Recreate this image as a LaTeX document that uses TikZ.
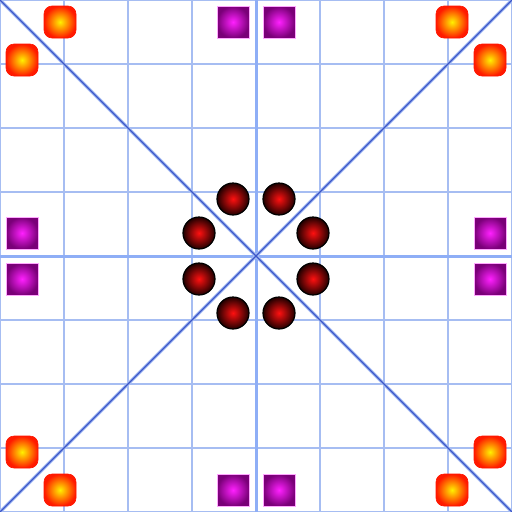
\documentclass[tikz,border=0pt]{standalone}
\usetikzlibrary{shadings}
\definecolor{gridblue}{HTML}{A6BDF2}
\definecolor{axisblue}{HTML}{8EAEF6}
\definecolor{diagblue}{HTML}{3A55C8}
\definecolor{halo}{HTML}{A8BEF4}
\definecolor{magc}{HTML}{FF20FF}
\definecolor{mago}{HTML}{7A0078}
\definecolor{orc}{HTML}{FFF000}
\definecolor{oro}{HTML}{FF1A00}
\definecolor{ballc}{HTML}{FF1010}
\definecolor{ballo}{HTML}{200000}
\tikzset{
  gridline/.style={draw=gridblue, line width=1.5},
  axisline/.style={draw=axisblue, line width=3},
  diaghalo/.style={draw=halo, line width=3.2},
  diagline/.style={draw=diagblue, line width=1.3},
  orbox/.style={minimum size=32, inner sep=0, rounded corners=8, draw=oro!80!red, line width=0.6,
     inner color=orc, outer color=oro},
  magbox/.style={minimum size=32, inner sep=0, draw=magc!40!white, line width=0.7,
     inner color=magc, outer color=mago},
  ball/.style={circle, minimum size=32, inner sep=0, draw=black, line width=1.2,
     inner color=ballc, outer color=ballo},
}
\begin{document}
\begin{tikzpicture}[x=1pt,y=-1pt]
\useasboundingbox (0,0) rectangle (512,512);
\fill[white] (0,0) rectangle (512,512);
\foreach \i in {0,64,128,192,320,384,448,512}{
  \draw[gridline] (\i,0) -- (\i,512);
  \draw[gridline] (0,\i) -- (512,\i);
}
\draw[axisline] (256,0) -- (256,512);
\draw[axisline] (0,256) -- (512,256);
\coordinate (tl) at (0,0);
\coordinate (tr) at (512,0);
\coordinate (bl) at (0,512);
\coordinate (br) at (512,512);
\draw[diaghalo] (tl) -- (br);
\draw[diaghalo] (tr) -- (bl);
\draw[diagline] (tl) -- (br);
\draw[diagline] (tr) -- (bl);
% orange rounded squares
\node[orbox] (o1) at (60,22) {};
\node[orbox] (o2) at (22,60) {};
\node[orbox] (o3) at (452,22) {};
\node[orbox] (o4) at (490,60) {};
\node[orbox] (o5) at (22,452) {};
\node[orbox] (o6) at (60,490) {};
\node[orbox] (o7) at (490,452) {};
\node[orbox] (o8) at (452,490) {};
% magenta squares
\node[magbox] (m1) at (233,22) {};
\node[magbox] (m2) at (279,22) {};
\node[magbox] (m3) at (233,490) {};
\node[magbox] (m4) at (279,490) {};
\node[magbox] (m5) at (22,233) {};
\node[magbox] (m6) at (22,279) {};
\node[magbox] (m7) at (490,233) {};
\node[magbox] (m8) at (490,279) {};
% balls
\node[ball] (b1) at (233,199) {};
\node[ball] (b2) at (279,199) {};
\node[ball] (b3) at (199,233) {};
\node[ball] (b4) at (313,233) {};
\node[ball] (b5) at (199,279) {};
\node[ball] (b6) at (313,279) {};
\node[ball] (b7) at (233,313) {};
\node[ball] (b8) at (279,313) {};
\end{tikzpicture}
\end{document}
